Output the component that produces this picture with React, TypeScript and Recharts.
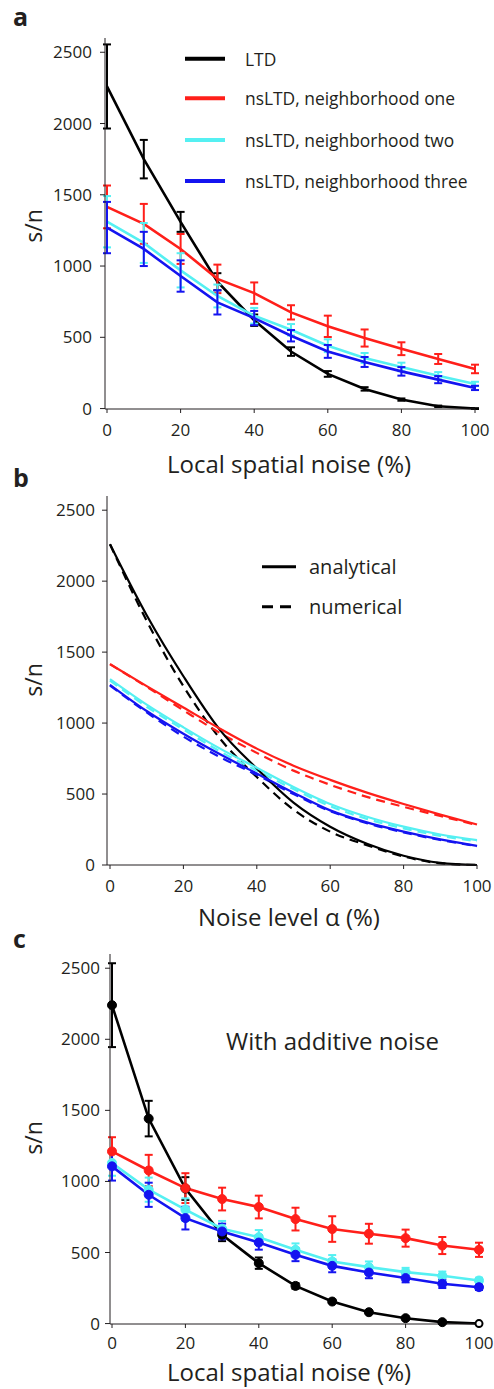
import React from 'react';
import { LineChart, Line, XAxis, YAxis, ErrorBar } from 'recharts';

// ---------- shared ----------
const noiseLevels = [0, 10, 20, 30, 40, 50, 60, 70, 80, 90, 100];
const xTicks = [0, 20, 40, 60, 80, 100];
const yTicks = [0, 500, 1000, 1500, 2000, 2500];

const BLACK = '#000000';
const RED = '#ff1f1a';
const CYAN = '#55f0f2';
const BLUE = '#1414f0';
const INK = '#231f20';
const FONT = "'Open Sans', sans-serif";

// ---------- panel a: Local spatial noise ----------
const aLTD = [2260, 1750, 1310, 890, 620, 400, 243, 138, 63, 16, 0];
const aLTDErr = [295, 135, 70, 60, 40, 30, 20, 12, 8, 5, 3];
const aOne = [1415, 1296, 1120, 910, 810, 675, 577, 495, 420, 348, 278];
const aOneErr = [150, 140, 105, 100, 75, 50, 75, 60, 45, 35, 30];
const aTwo = [1311, 1162, 970, 790, 651, 553, 441, 355, 292, 231, 173];
const aTwoErr = [180, 140, 120, 80, 55, 40, 45, 35, 30, 25, 15];
const aThree = [1270, 1120, 930, 745, 635, 511, 401, 327, 261, 203, 145];
const aThreeErr = [180, 120, 110, 85, 50, 40, 45, 35, 30, 25, 15];

// ---------- panel b: analytical vs numerical ----------
const bLTDAnalytical = [2260, 1760, 1330, 950, 680, 440, 270, 150, 65, 15, 0];
const bLTDNumerical = [2260, 1720, 1260, 890, 620, 390, 235, 140, 60, 12, 0];
const bOneAnalytical = [1415, 1260, 1110, 960, 820, 700, 600, 510, 430, 355, 285];
const bOneNumerical = [1415, 1255, 1090, 930, 790, 665, 565, 480, 410, 345, 282];
const bTwoAnalytical = [1310, 1130, 970, 820, 685, 550, 430, 340, 270, 215, 175];
const bTwoNumerical = [1300, 1115, 955, 800, 665, 535, 415, 325, 258, 205, 168];
const bThreeAnalytical = [1270, 1085, 925, 780, 645, 510, 385, 300, 235, 180, 135];
const bThreeNumerical = [1265, 1075, 905, 760, 635, 500, 380, 295, 230, 176, 133];

// ---------- panel c: with additive noise ----------
const cLTD = [2240, 1442, 950, 625, 425, 265, 155, 80, 38, 10, 0];
const cLTDErr = [295, 125, 80, 45, 40, 20, 10, 8, 6, 4, 3];
const cOne = [1211, 1077, 953, 876, 820, 735, 665, 632, 601, 549, 519];
const cOneErr = [100, 110, 105, 80, 80, 80, 90, 70, 60, 60, 50];
const cTwo = [1130, 942, 801, 667, 608, 519, 437, 397, 362, 336, 303];
const cTwoErr = [90, 85, 80, 55, 50, 45, 45, 40, 30, 30, 20];
const cThree = [1106, 906, 742, 648, 570, 484, 406, 359, 320, 280, 256];
const cThreeErr = [100, 85, 80, 55, 50, 45, 45, 40, 30, 30, 20];

// ---------- legends ----------
const legendA = [
  { label: 'LTD', color: BLACK },
  { label: 'nsLTD, neighborhood one', color: RED },
  { label: 'nsLTD, neighborhood two', color: CYAN },
  { label: 'nsLTD, neighborhood three', color: BLUE },
];
const legendB = [
  { label: 'analytical', dash: undefined as string | undefined },
  { label: 'numerical', dash: '11 7' },
];

const dataA = noiseLevels.map((x, i) => ({
  x,
  ltd: aLTD[i], ltdErr: aLTDErr[i],
  one: aOne[i], oneErr: aOneErr[i],
  two: aTwo[i], twoErr: aTwoErr[i],
  three: aThree[i], threeErr: aThreeErr[i],
}));
const dataB = noiseLevels.map((x, i) => ({
  x,
  ltdA: bLTDAnalytical[i], ltdN: bLTDNumerical[i],
  oneA: bOneAnalytical[i], oneN: bOneNumerical[i],
  twoA: bTwoAnalytical[i], twoN: bTwoNumerical[i],
  threeA: bThreeAnalytical[i], threeN: bThreeNumerical[i],
}));
const dataC = noiseLevels.map((x, i) => ({
  x,
  ltd: cLTD[i], ltdErr: cLTDErr[i],
  one: cOne[i], oneErr: cOneErr[i],
  two: cTwo[i], twoErr: cTwoErr[i],
  three: cThree[i], threeErr: cThreeErr[i],
}));

const tickStyle = { fill: INK, fontSize: 17, fontFamily: FONT };

const makeDot = (color: string, hollowLast = false) => (props: any) => {
  const { cx, cy, index } = props;
  if (cx == null || cy == null) return <g key={`d${index}`} />;
  const hollow = hollowLast && index === noiseLevels.length - 1;
  return (
    <circle
      key={`d${index}`}
      cx={cx}
      cy={cy}
      r={hollow ? 3.5 : 4.5}
      fill={hollow ? '#ffffff' : color}
      stroke={color}
      strokeWidth={hollow ? 2 : 1}
    />
  );
};

function axes(height: number, padLeft: number, yMargin: number, xMargin: number) {
  return [
    <XAxis
      key="x"
      dataKey="x"
      type="number"
      domain={[0, 100]}
      ticks={xTicks}
      height={height}
      padding={{ left: padLeft, right: 0 }}
      axisLine={{ stroke: INK, strokeWidth: 1 }}
      tickLine={{ stroke: INK, strokeWidth: 1 }}
      tickSize={4}
      tickMargin={xMargin}
      tick={tickStyle}
      interval={0}
    />,
    <YAxis
      key="y"
      type="number"
      domain={[0, 2600]}
      ticks={yTicks}
      width={60}
      axisLine={{ stroke: INK, strokeWidth: 1 }}
      tickLine={{ stroke: INK, strokeWidth: 1 }}
      tickSize={5}
      tickMargin={yMargin}
      tick={tickStyle}
      interval={0}
    />,
  ];
}

function errSeries(
  key: string,
  color: string,
  width: number,
  dots: boolean,
  hollowLast = false
) {
  return (
    <Line
      key={key}
      dataKey={key}
      type="linear"
      stroke={color}
      strokeWidth={width}
      dot={dots ? makeDot(color, hollowLast) : false}
      activeDot={false}
      isAnimationActive={false}
    >
      <ErrorBar
        dataKey={`${key}Err`}
        direction="y"
        width={4}
        stroke={color}
        strokeWidth={2}
        isAnimationActive={false}
      />
    </Line>
  );
}

export default function App() {
  const seriesKeys = [
    { k: 'ltd', c: BLACK },
    { k: 'one', c: RED },
    { k: 'two', c: CYAN },
    { k: 'three', c: BLUE },
  ];
  return (
    <div
      style={{
        position: 'absolute',
        left: 0,
        top: 0,
        width: 494,
        height: 1389,
        background: '#ffffff',
        fontFamily: FONT,
        overflow: 'hidden',
      }}
    >
      {/* Panel a */}
      <div style={{ position: 'absolute', left: 0, top: 0 }}>
        <LineChart width={494} height={480} data={dataA} margin={{ top: 38, right: 19, bottom: 0, left: 45 }}>
          {axes(71, 2, 8, 11)}
          {seriesKeys.map((s) => errSeries(s.k, s.c, 2.6, false))}
        </LineChart>
      </div>

      {/* Panel b */}
      <div style={{ position: 'absolute', left: 0, top: 460 }}>
        <LineChart width={494} height={480} data={dataB} margin={{ top: 36, right: 17, bottom: 0, left: 47 }}>
          {axes(75, 3, 7, 11)}
          {seriesKeys.map((s) => (
            <Line
              key={s.k + 'N'}
              dataKey={s.k + 'N'}
              type="monotone"
              stroke={s.c}
              strokeWidth={2.2}
              strokeDasharray="9 6"
              dot={false}
              activeDot={false}
              isAnimationActive={false}
            />
          ))}
          {seriesKeys.map((s) => (
            <Line
              key={s.k + 'A'}
              dataKey={s.k + 'A'}
              type="monotone"
              stroke={s.c}
              strokeWidth={2.2}
              dot={false}
              activeDot={false}
              isAnimationActive={false}
            />
          ))}
        </LineChart>
      </div>

      {/* Panel c */}
      <div style={{ position: 'absolute', left: 0, top: 920 }}>
        <LineChart width={494} height={469} data={dataC} margin={{ top: 34, right: 15, bottom: 0, left: 50 }}>
          {axes(65, 2, 5, 9)}
          {seriesKeys.map((s) => errSeries(s.k, s.c, 2.6, true, s.k === 'ltd'))}
        </LineChart>
      </div>

      {/* Annotation overlay */}
      <svg
        width={494}
        height={1389}
        style={{ position: 'absolute', left: 0, top: 0, pointerEvents: 'none' }}
        fontFamily={FONT}
      >
        <text x={13} y={26} fontSize={25} fontWeight={700} fill={INK}>a</text>
        <text x={13} y={487} fontSize={25} fontWeight={700} fill={INK}>b</text>
        <text x={13} y={948} fontSize={25} fontWeight={700} fill={INK}>c</text>

        {/* y labels */}
        <text x={41.5} y={226} fontSize={23} fill={INK} textAnchor="middle" transform="rotate(-90 41.5 226)">s/n</text>
        <text x={41.5} y={680} fontSize={23} fill={INK} textAnchor="middle" transform="rotate(-90 41.5 680)">s/n</text>
        <text x={41.5} y={1138} fontSize={23} fill={INK} textAnchor="middle" transform="rotate(-90 41.5 1138)">s/n</text>

        {/* x labels */}
        <text x={289} y={473} fontSize={24} fill={INK} textAnchor="middle">Local spatial noise (%)</text>
        <text x={289} y={926} fontSize={24} fill={INK} textAnchor="middle">Noise level α (%)</text>
        <text x={289} y={1381} fontSize={24} fill={INK} textAnchor="middle">Local spatial noise (%)</text>

        {/* legend a */}
        {legendA.map((l, i) => {
          const ly = [58.7, 98.3, 140, 181][i];
          return (
            <g key={l.label}>
              <line x1={185} x2={225} y1={ly} y2={ly} stroke={l.color} strokeWidth={4} />
              <text x={245} y={ly + 7} fontSize={17.4} fill={INK}>{l.label}</text>
            </g>
          );
        })}

        {/* legend b */}
        {legendB.map((l, i) => {
          const ly = [566.7, 606.7][i];
          return (
            <g key={l.label}>
              <line x1={262} x2={296} y1={ly} y2={ly} stroke={BLACK} strokeWidth={3} strokeDasharray={l.dash} />
              <text x={309} y={ly + 7} fontSize={20} fill={INK}>{l.label}</text>
            </g>
          );
        })}

        <text x={226} y={1050} fontSize={24} fill={INK}>With additive noise</text>
      </svg>
    </div>
  );
}
